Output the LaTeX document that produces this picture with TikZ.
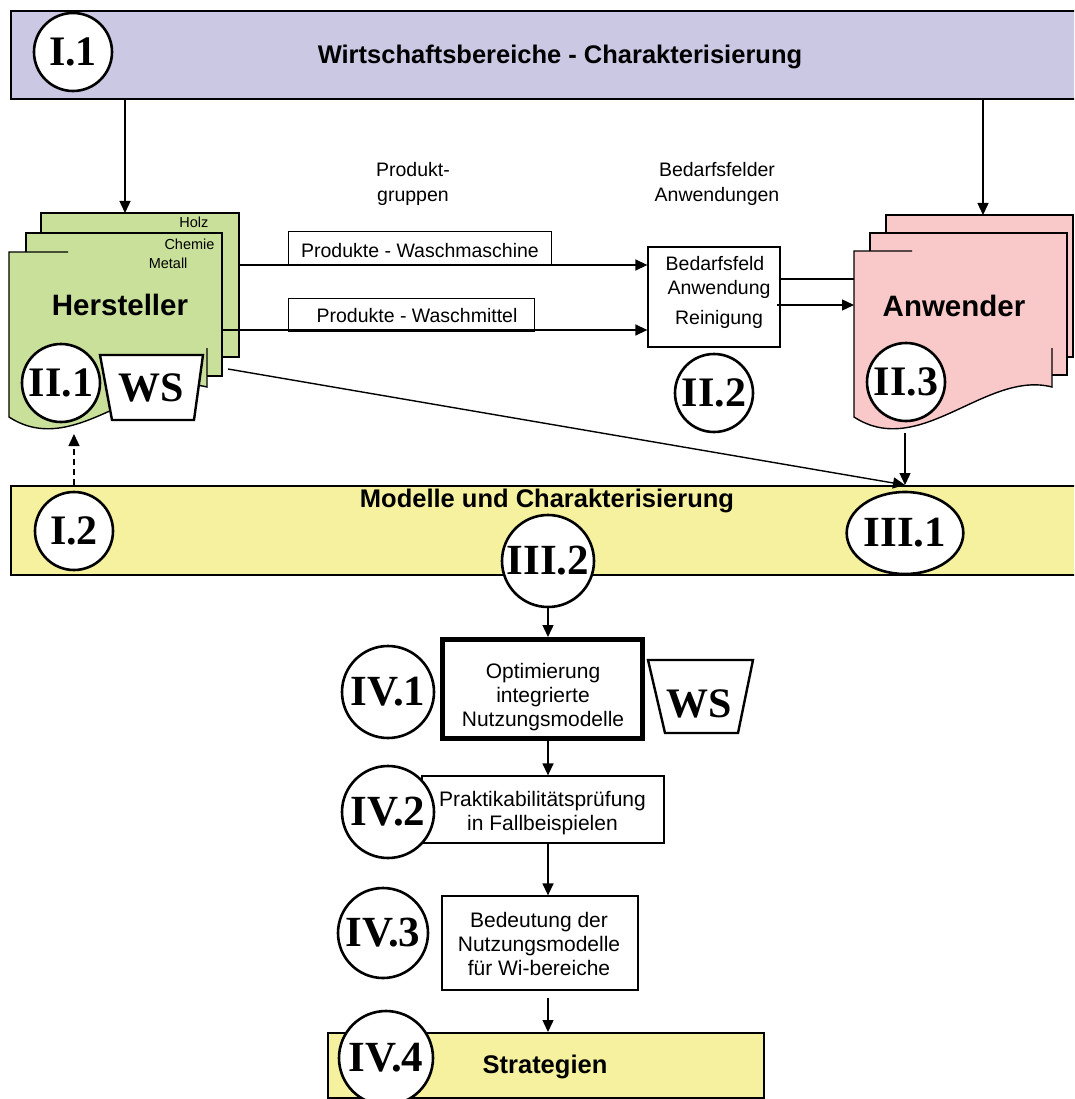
\documentclass[tikz,border=0pt]{standalone}
\usepackage{fontspec}
\setmainfont{Liberation Sans}
\newfontfamily\serf{Liberation Serif}
\usetikzlibrary{arrows.meta,shapes.geometric}
\definecolor{lav}{RGB}{203,200,228}
\definecolor{grn}{RGB}{201,224,155}
\definecolor{pnk}{RGB}{249,201,201}
\definecolor{ylw}{RGB}{246,241,158}
\tikzset{
  lw/.style={line width=1.4pt},
  band/.style={draw, line width=1.6pt, inner sep=0pt, anchor=north west},
  circ/.style={circle, draw, line width=2.6pt, fill=white, inner sep=0pt, minimum size=78pt,
    font=\serf\bfseries\fontsize{42}{42}\selectfont},
  bigcirc/.style={circ, minimum size=92pt, font=\serf\bfseries\fontsize{43}{43}\selectfont},
  oval/.style={ellipse, draw, line width=2.6pt, fill=white, inner sep=0pt,
    font=\serf\bfseries\fontsize{43}{43}\selectfont},
  arr/.style={line width=1.4pt, -{Triangle[length=12pt,width=11pt]}},
  box/.style={draw, line width=1.3pt, fill=white, inner sep=0pt},
  ttl/.style={font=\bfseries\fontsize{25.5}{28}\selectfont, anchor=base},
  big/.style={font=\bfseries\fontsize{29.5}{30}\selectfont, anchor=base},
  txt/.style={font=\fontsize{19.5}{24}\selectfont, anchor=base},
  btxt/.style={font=\fontsize{21}{24}\selectfont, align=center},
  small/.style={font=\fontsize{14.5}{15}\selectfont, anchor=base east},
  wsbox/.style={draw, line width=2.4pt, fill=white},
  wstxt/.style={font=\serf\bfseries\fontsize{42}{42}\selectfont},
}
\begin{document}
\begin{tikzpicture}[x=1pt,y=-1pt]
\useasboundingbox (0,0) rectangle (1074,1099);
\fill[white] (0,0) rectangle (1074,1099);
\clip (0,0) rectangle (1074,1099);

% ---------- top band ----------
\node[band, fill=lav, minimum width=1068, minimum height=88] (top) at (10,10) {};
\node[ttl] (toptxt) at (560,64) {Wirtschaftsbereiche - Charakterisierung};
\node[circ] (I1) at (73,52) {I.1};

% ---------- Hersteller stack ----------
\filldraw[fill=grn, lw] (41,213) rectangle (239,357);
\filldraw[fill=grn, lw] (26,233) rectangle (222,376);
\fill[grn] (9,252) -- (207,252) -- (207,387) .. controls (141,370) and (75,460) .. (9,417) -- cycle;
\draw[lw] (68,252) -- (9,252) -- (9,417) .. controls (75,460) and (141,370) .. (207,387) -- (207,348);
\node[small] (holz) at (212,228) {Holz};
\node[small] (chem) at (218,249) {Chemie};
\node[small] (met) at (191,268) {Metall};
\node[big] (hst) at (120,315) {Hersteller};
\node[circ] (II1) at (61,383) {II.1};
\draw[wsbox] (100,355) -- (203,355) -- (194,420) -- (112,420) -- cycle;
\node[wstxt] (ws1) at (151,388) {WS};

% ---------- Anwender stack ----------
\filldraw[fill=pnk, lw] (886,215) rectangle (1073,357);
\filldraw[fill=pnk, lw] (870,233) rectangle (1067,375);
\fill[pnk] (854,251) -- (1052,251) -- (1052,387) .. controls (986,370) and (920,460) .. (854,417) -- cycle;
\draw[lw] (912,251) -- (854,251) -- (854,417) .. controls (920,460) and (986,370) .. (1052,387) -- (1052,348);
\node[big] (anw) at (954,316) {Anwender};
\node[circ] (II3) at (906,382) {II.3};

% ---------- labels ----------
\node[txt] (pg1) at (413,177) {Produkt-};
\node[txt] (pg2) at (413,202) {gruppen};
\node[txt] (bfl1) at (717,177) {Bedarfsfelder};
\node[txt] (bfl2) at (717,202) {Anwendungen};

% ---------- product boxes ----------
\node[box, anchor=north west, minimum width=263, minimum height=34] (pw1) at (288,231) {};
\node[txt] (pw1t) at (420,257) {Produkte - Waschmaschine};
\node[box, anchor=north west, minimum width=246, minimum height=33] (pw2) at (288,298) {};
\node[txt] (pw2t) at (417,322) {Produkte - Waschmittel};

% ---------- Bedarfsfeld box ----------
\node[box, minimum width=132, minimum height=100] (bf) at (714,297) {};
\node[txt] (bft1) at (715,270) {Bedarfsfeld};
\node[txt] (bft2) at (719,294) {Anwendung};
\node[txt] (bft3) at (719,324) {Reinigung};
\node[circ] (II2) at (714,393) {II.2};

% ---------- connectors top part ----------
\coordinate (hTop) at (125,213);
\coordinate (aTop) at (983,215);
\draw[arr] (top.south -| hTop) -- (hTop);
\draw[arr] (top.south -| aTop) -- (aTop);
\coordinate (hs1) at (239,265);
\coordinate (hs2) at (222,330);
\draw[arr] (hs1) -- (hs1 -| bf.west);
\draw[arr] (hs2) -- (hs2 -| bf.west);
\coordinate (as1) at (854,279);
\coordinate (as2) at (854,305);
\coordinate (bfo) at (777,305);
\draw[lw] (as1 -| bf.east) -- (as1);
\draw[arr] (bfo) -- (as2);

% ---------- middle band ----------
\node[band, fill=ylw, minimum width=1068, minimum height=89] (mid) at (10,485) {};
\node[ttl] (midtxt) at (547,507) {Modelle und Charakterisierung};
\node[circ] (I2) at (74,531) {I.2};
\node[oval, minimum width=93pt, minimum height=82pt] (III1) at (905,533) {III.1};
\node[bigcirc] (III2) at (548,561) {III.2};

\coordinate (hd) at (228,369);
\coordinate (aBot) at (905,433);
\coordinate (hBot) at (74,434);
\draw[arr] (hd) -- (mid.north -| III1);
\draw[arr] (aBot) -- (mid.north -| III1);
\draw[arr, dash pattern=on 6pt off 4pt] (mid.north -| I2) -- (hBot);

% ---------- lower chain ----------
\node[draw, line width=5pt, fill=white, inner sep=0pt, minimum width=200, minimum height=99] (opt) at (542.5,689) {};
\node[btxt] (optt) at (543,697.5) {Optimierung\\integrierte\\Nutzungsmodelle};
\node[bigcirc] (IV1) at (388,692) {IV.1};
\draw[wsbox] (648,660) -- (753,660) -- (738,733) -- (665,733) -- cycle;
\node[wstxt] (ws2) at (699,704) {WS};

\node[box, minimum width=242, minimum height=67] (prak) at (543,809.5) {};
\node[btxt] (prakt) at (542.5,813) {Praktikabilitätsprüfung\\in Fallbeispielen};
\node[bigcirc] (IV2) at (388,812) {IV.2};

\node[box, minimum width=196, minimum height=94] (bed) at (540,943) {};
\node[btxt] (bedt) at (539,943.5) {Bedeutung der\\Nutzungsmodelle\\für Wi-bereiche};
\node[bigcirc, minimum size=90pt] (IV3) at (383,933) {IV.3};

\node[band, fill=ylw, minimum width=436, minimum height=65] (strat) at (327,1032) {};
\node[ttl] (stratt) at (545,1073) {Strategien};
\node[bigcirc, minimum size=94pt] (IV4) at (386,1058) {IV.4};

\coordinate (b8) at (540,998);
\draw[arr] (III2.south) -- (opt.north -| III2);
\draw[arr] (opt.south -| III2) -- (prak.north -| III2);
\draw[arr] (prak.south -| III2) -- (bed.north -| III2);
\draw[arr] (b8 -| III2) -- (strat.north -| III2);
\end{tikzpicture}
\end{document}
